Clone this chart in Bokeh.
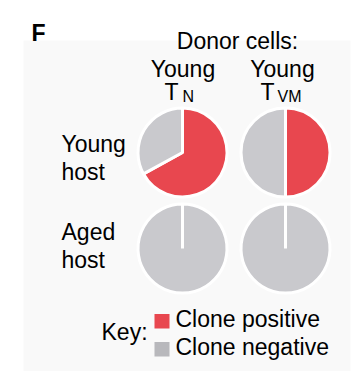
from bokeh.plotting import figure
from bokeh.models import Range1d
from bokeh.embed import file_html
from bokeh.resources import INLINE
from bokeh.core.properties import value
import math

# ---- data ----
donor_main = ["Young", "Young"]
donor_sub_base = ["T", "T"]
donor_sub = ["N", "VM"]
host_line1 = ["Young", "Aged"]
host_line2 = ["host", "host"]
# fraction of clone-positive, rows = host (young, aged), cols = donor (TN, TVM)
positive = [[0.67, 0.50],
            [0.00, 0.00]]
key_labels = ["Clone positive", "Clone negative"]

RED = "#e8474f"
GRAY = "#c9c9cd"
KEY_GRAY = "#b8b8bc"
FONT = "Liberation Sans"

W, H = 354, 371
p = figure(width=W, height=H, output_backend="svg", toolbar_location=None,
           x_range=Range1d(0, W), y_range=Range1d(0, H), min_border=0)
p.axis.visible = False
p.grid.visible = False
p.outline_line_color = None
p.background_fill_color = "white"
p.border_fill_color = "white"

def X(sx):
    return sx

def Y(sy):
    return H - sy

def YT(sy):
    return H - (sy - 9)

# faint panel
p.quad(left=[X(23)], right=[X(350)], bottom=[Y(371)], top=[Y(40)],
       fill_color="#f9f9f9", line_color=None)

# pies
col_x = [182, 285]
row_y = [152, 248]
R = 44.5
for r in range(2):
    for c in range(2):
        f = positive[r][c]
        cx, cy = X(col_x[c]), Y(row_y[r])
        top = math.pi / 2
        if f > 0:
            p.wedge(x=[cx], y=[cy], radius=R, start_angle=[top - 2 * math.pi * f],
                    end_angle=[top], fill_color=RED, line_color="white", line_width=3)
        if f < 1:
            end = top - 2 * math.pi * f + 2 * math.pi
            if f == 0:
                end = top + 2 * math.pi - 1e-4
            p.wedge(x=[cx], y=[cy], radius=R, start_angle=[top],
                    end_angle=[end], fill_color=GRAY, line_color="white", line_width=3)

def txt(x, y, s, size="23px", style="normal", align="left"):
    p.text(x=[X(x)], y=[YT(y)], text=[s], text_font=value(FONT),
           text_font_size=size, text_font_style=style, text_align=align,
           text_baseline="alphabetic", text_color="black")

txt(31, 41, "F", size="23px", style="bold")
txt(237, 49, "Donor cells:", align="center")

main_x = [182.5, 282]
base_x = [164, 260]
sub_x = [182, 277]
for i in range(2):
    txt(main_x[i], 77, donor_main[i], align="center")
    txt(base_x[i], 100, donor_sub_base[i])
    txt(sub_x[i], 105, donor_sub[i], size="16px")

host_y1 = [152, 240]
host_y2 = [180, 268]
for i in range(2):
    txt(61, host_y1[i], host_line1[i])
    txt(61, host_y2[i], host_line2[i])

txt(101, 340, "Key:")
key_colors = [RED, KEY_GRAY]
key_y = [313.5, 341.5]
for i in range(2):
    p.quad(left=[X(154)], right=[X(169)], top=[Y(key_y[i])], bottom=[Y(key_y[i] + 14.5)],
           fill_color=key_colors[i], line_color=None)
    txt(175, key_y[i] + 14, key_labels[i])

open("out.html", "w").write(file_html(p, INLINE))
